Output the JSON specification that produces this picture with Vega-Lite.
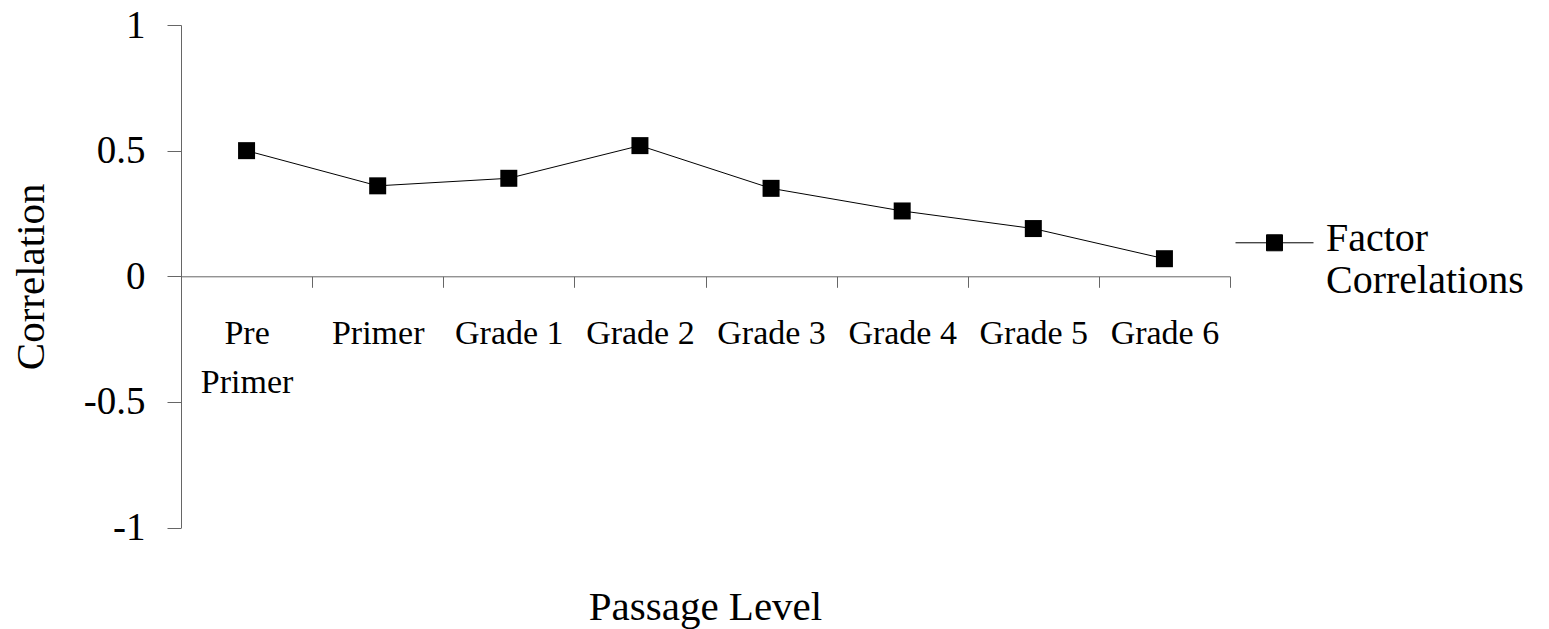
{
  "$schema": "https://vega.github.io/schema/vega-lite/v6.json",
  "width": 1049,
  "height": 502.6,
  "autosize": {"type": "none"},
  "padding": {"left": 181, "top": 25, "right": 319, "bottom": 101.4},
  "background": "white",
  "config": {
    "font": "'Liberation Serif', 'Times New Roman', Times, serif",
    "view": {"stroke": null}
  },
  "title": {
    "text": "Passage Level",
    "orient": "bottom",
    "anchor": "middle",
    "frame": "group",
    "font": "'Liberation Serif', 'Times New Roman', Times, serif",
    "fontSize": 41,
    "fontWeight": "normal",
    "color": "black",
    "offset": 40
  },
  "data": {
    "values": [
      {"level": "Pre Primer", "r": 0.5},
      {"level": "Primer", "r": 0.36},
      {"level": "Grade 1", "r": 0.39},
      {"level": "Grade 2", "r": 0.52},
      {"level": "Grade 3", "r": 0.35},
      {"level": "Grade 4", "r": 0.26},
      {"level": "Grade 5", "r": 0.19},
      {"level": "Grade 6", "r": 0.07}
    ]
  },
  "encoding": {
    "x": {
      "field": "level",
      "type": "nominal",
      "sort": null,
      "scale": {"type": "band", "paddingInner": 0, "paddingOuter": 0},
      "axis": {
        "title": null,
        "offset": -251.3,
        "labelAngle": 0,
        "tickBand": "extent",
        "tickSize": 11,
        "tickColor": "#666666",
        "domainColor": "#666666",
        "labelFont": "'Liberation Serif', 'Times New Roman', Times, serif",
        "labelFontSize": 34,
        "labelColor": "black",
        "labelBaseline": "top",
        "labelPadding": 29,
        "labelLineHeight": 49,
        "labelExpr": "datum.value == 'Pre Primer' ? ['Pre', 'Primer'] : datum.label",
        "labelOverlap": false,
        "labelLimit": 0,
        "grid": false
      }
    },
    "y": {
      "field": "r",
      "type": "quantitative",
      "scale": {"domain": [-1, 1], "nice": false, "zero": false},
      "axis": {
        "title": "Correlation",
        "values": [-1, -0.5, 0, 0.5, 1],
        "labelExpr": "'' + datum.value",
        "grid": false,
        "tickSize": 14,
        "tickColor": "#666666",
        "domainColor": "#666666",
        "labelFont": "'Liberation Serif', 'Times New Roman', Times, serif",
        "labelFontSize": 39,
        "labelColor": "black",
        "labelPadding": 22,
        "labelFlush": false,
        "titleFont": "'Liberation Serif', 'Times New Roman', Times, serif",
        "titleFontSize": 41,
        "titleFontWeight": "normal",
        "titleColor": "black",
        "titleAngle": -90,
        "titleX": -138,
        "titleY": 251.3,
        "titleAlign": "center",
        "titleBaseline": "alphabetic"
      }
    },
    "color": {
      "datum": "Factor Correlations",
      "type": "nominal",
      "scale": {"range": ["black"]},
      "legend": {
        "title": null,
        "orient": "none",
        "legendX": 1054,
        "legendY": 174,
        "padding": 0,
        "symbolType": "M-1,0.11H1M-0.205,-0.095H0.205V0.315H-0.205Z",
        "symbolSize": 6084,
        "symbolStrokeWidth": 1,
        "symbolFillColor": "black",
        "symbolStrokeColor": "black",
        "symbolOpacity": 1,
        "labelFont": "'Liberation Serif', 'Times New Roman', Times, serif",
        "labelFontSize": 40,
        "labelColor": "black",
        "labelOffset": 12,
        "labelLimit": 0,
        "labelLineHeight": 42,
        "labelExpr": "['Factor', 'Correlations']"
      }
    }
  },
  "layer": [
    {"mark": {"type": "line", "strokeWidth": 1}},
    {"mark": {"type": "point", "shape": "square", "filled": true, "size": 289, "opacity": 1}}
  ]
}
